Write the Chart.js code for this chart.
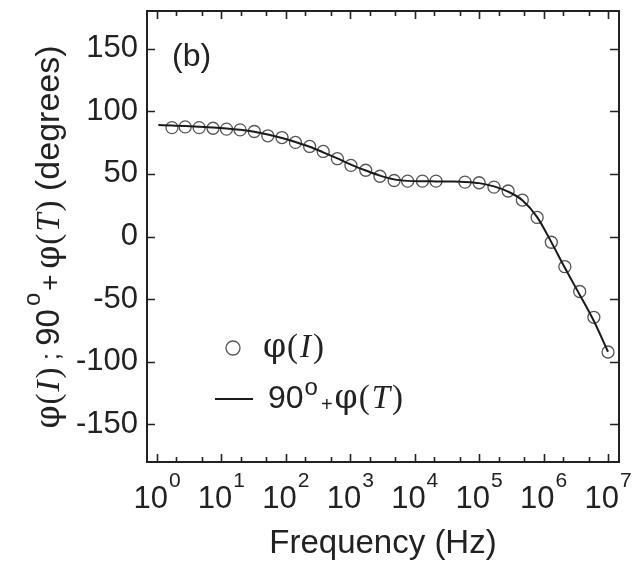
<!DOCTYPE html>
<html>
<head>
<meta charset="utf-8">
<script src="https://cdn.jsdelivr.net/npm/chart.js@4.4.1/dist/chart.umd.min.js"></script>
<style>
  html, body { margin: 0; padding: 0; background: #fff; }
  #wrap { width: 644px; height: 565px; }
</style>
</head>
<body>
<div id="wrap"><canvas id="chPhase" width="644" height="565"></canvas></div>
<script>
/* Fase: φ(I) misurata (cerchi) e 90° + φ(T) (linea continua) vs frequenza. */

// cerchi φ(I)
const freqI = [1.71, 2.74, 4.51, 7.41, 12.0, 19.5, 32.4, 52.5, 87.1, 141,
               234, 380, 631, 1023, 1738, 2884, 4786, 7762, 13180, 21380,
               60260, 100000, 169800, 281800, 467700, 794300, 1318000, 2138000, 3631000, 6026000,
               10000000];
const phiI  = [86.9, 87.5, 86.9, 86.4, 85.7, 85.1, 83.8, 80.4, 79.0, 75.1,
               71.9, 67.9, 62.1, 56.8, 52.9, 48.1, 44.7, 44.2, 44.2, 44.2,
               43.4, 42.9, 39.4, 36.3, 29.1, 15.2, -4.6, -24.1, -43.9, -64.5,
               -92.2];

// linea 90° + φ(T)
const freqT = [1.05, 1.71, 2.74, 4.51, 7.41, 12.0, 19.5, 32.4, 52.5, 87.1,
               141, 234, 380, 631, 1023, 1738, 2884, 4786, 7762, 13180,
               21380, 36000, 60260, 100000, 169800, 281800, 467700, 794300, 1318000, 2138000,
               3631000, 6026000, 10000000];
const phiT  = [89.0, 88.6, 88.2, 87.7, 87.1, 86.3, 85.2, 83.6, 81.4, 78.6,
               75.4, 71.6, 67.2, 62.3, 57.4, 52.7, 48.6, 45.6, 44.4, 44.1,
               44.0, 43.9, 43.6, 42.6, 40.0, 35.8, 29.0, 15.5, -4.5, -25.0,
               -46.5, -67.5, -92.0];

// assi
const yTicks   = [-150, -100, -50, 0, 50, 100, 150];
const xDecades = [1, 10, 100, 1000, 10000, 100000, 1000000, 10000000];
const xExp     = ['0', '1', '2', '3', '4', '5', '6', '7'];
const xMinor   = [2, 5, 20, 50, 200, 500, 2000, 5000, 20000, 50000,
                  200000, 500000, 2000000, 5000000];

const SANS  = '"Liberation Sans", Arial, Helvetica, sans-serif';
const SERIF = '"Liberation Serif", "Times New Roman", serif';
const PHI   = '"DejaVu Serif", serif';
const INK   = '#222';

// disegna segmenti di testo con font diversi, da sinistra a destra
function drawRuns(ctx, runs, x, y) {
  let cx = x;
  runs.forEach(r => {
    ctx.font = r.f;
    ctx.fillText(r.t, cx + (r.dx || 0), y + (r.dy || 0));
    cx += ctx.measureText(r.t).width + (r.dx || 0);
  });
  return cx;
}
function runsWidth(ctx, runs) {
  let w = 0;
  runs.forEach(r => { ctx.font = r.f; w += ctx.measureText(r.t).width + (r.dx || 0); });
  return w;
}
// φ(X) con X corsivo
function phiRuns(letter, size, gap) {
  return [
    { t: 'φ', f: size + 'px ' + PHI },
    { t: '(', f: size + 'px ' + SERIF, dx: 1 },
    { t: letter, f: 'italic ' + size + 'px ' + SERIF, dx: gap },
    { t: ')', f: size + 'px ' + SERIF, dx: gap }
  ];
}

const framePlugin = {
  id: 'frame',
  afterDraw(chart) {
    const ctx = chart.ctx;
    const a = chart.chartArea;
    const xs = chart.scales.x, ys = chart.scales.y;
    ctx.save();
    ctx.strokeStyle = INK;
    ctx.fillStyle = INK;

    // cornice
    ctx.lineWidth = 2;
    ctx.strokeRect(a.left, a.top, a.right - a.left, a.bottom - a.top);

    // tacche interne
    ctx.lineWidth = 1.6;
    ctx.beginPath();
    yTicks.forEach(v => {
      const py = Math.round(ys.getPixelForValue(v)) + 0.5;
      ctx.moveTo(a.left, py);  ctx.lineTo(a.left + 8, py);
      ctx.moveTo(a.right, py); ctx.lineTo(a.right - 9, py);
    });
    xDecades.forEach(v => {
      const px = Math.round(xs.getPixelForValue(v)) + 0.5;
      ctx.moveTo(px, a.bottom); ctx.lineTo(px, a.bottom - 8);
      ctx.moveTo(px, a.top);    ctx.lineTo(px, a.top + 8);
    });
    xMinor.forEach(v => {
      const px = Math.round(xs.getPixelForValue(v)) + 0.5;
      ctx.moveTo(px, a.bottom); ctx.lineTo(px, a.bottom - 5);
      ctx.moveTo(px, a.top);    ctx.lineTo(px, a.top + 5);
    });
    ctx.stroke();

    // etichette asse x: 10^n
    ctx.textBaseline = 'alphabetic';
    ctx.textAlign = 'left';
    xDecades.forEach((v, i) => {
      const runs = [
        { t: '10', f: '31px ' + SANS },
        { t: xExp[i], f: '21px ' + SANS, dx: 1, dy: -21 }
      ];
      const w = runsWidth(ctx, runs);
      drawRuns(ctx, runs, xs.getPixelForValue(v) - w / 2, 508);
    });

    // titolo asse x
    ctx.font = '33px ' + SANS;
    ctx.textAlign = 'center';
    ctx.fillText('Frequency (Hz)', (a.left + a.right) / 2, 553);

    // titolo asse y (ruotato)
    ctx.textAlign = 'left';
    const yRuns = [].concat(
      phiRuns('I', 33, 2),
      [
        { t: ' ; ', f: '26px ' + SANS },
        { t: '90', f: '33px ' + SANS },
        { t: 'o', f: '24px ' + SANS, dx: 3, dy: -19 },
        { t: '+', f: '28px ' + SANS, dx: 2 },
        { t: ' ', f: '20px ' + SANS }
      ],
      phiRuns('T', 33, 2),
      [{ t: ' (degrees)', f: '34px ' + SANS }]
    );
    ctx.save();
    ctx.translate(59, 237);
    ctx.rotate(-Math.PI / 2);
    drawRuns(ctx, yRuns, -runsWidth(ctx, yRuns) / 2, 0);
    ctx.restore();

    // (b)
    ctx.font = '32px ' + SANS;
    ctx.fillText('(b)', 172, 66);

    // legenda
    const dsI = chart.data.datasets[1], dsT = chart.data.datasets[0];
    ctx.beginPath();
    ctx.lineWidth = dsI.pointBorderWidth;
    ctx.strokeStyle = dsI.pointBorderColor;
    ctx.arc(233, 348, 7, 0, Math.PI * 2);
    ctx.stroke();
    drawRuns(ctx, phiRuns('I', 33, 2), 263, 357);

    ctx.beginPath();
    ctx.lineWidth = dsT.borderWidth;
    ctx.strokeStyle = dsT.borderColor;
    ctx.moveTo(215, 399); ctx.lineTo(253, 399);
    ctx.stroke();
    drawRuns(ctx, [
      { t: '90', f: '32px ' + SANS },
      { t: 'o', f: '24px ' + SANS, dx: 1, dy: -13 },
      { t: '+', f: '20px ' + SANS, dx: 3, dy: 3 },
      { t: '', f: '20px ' + SANS, dx: 2 }
    ].concat(phiRuns('T', 33, 2)), 268, 408);

    ctx.restore();
  }
};

new Chart(document.getElementById('chPhase'), {
  type: 'line',
  data: {
    datasets: [
      {
        label: '90° + φ(T)',
        data: freqT.map((f, i) => ({ x: f, y: phiT[i] })),
        borderColor: '#1a1a1a', borderWidth: 2,
        pointRadius: 0, fill: false,
        cubicInterpolationMode: 'monotone'
      },
      {
        label: 'φ(I)',
        data: freqI.map((f, i) => ({ x: f, y: phiI[i] })),
        showLine: false,
        pointRadius: 6, pointStyle: 'circle',
        pointBackgroundColor: 'rgba(255,255,255,0)',
        pointBorderColor: '#555', pointBorderWidth: 1.3
      }
    ]
  },
  options: {
    responsive: false, animation: false, devicePixelRatio: 1,
    layout: { padding: { top: 11, right: 25, left: 0, bottom: 0 } },
    plugins: { legend: { display: false }, tooltip: { enabled: false } },
    scales: {
      x: {
        type: 'logarithmic', min: 0.72, max: 1.48e7,
        ticks: { display: false }, grid: { display: false }, border: { display: false },
        afterFit: s => { s.height = 103; s.paddingLeft = 0; s.paddingRight = 0; }
      },
      y: {
        min: -180, max: 180,
        ticks: { color: INK, padding: 9, font: { family: SANS, size: 31 } },
        grid: { display: false, drawTicks: false }, border: { display: false },
        afterBuildTicks: s => { s.ticks = yTicks.map(v => ({ value: v })); },
        afterFit: s => { s.width = 147; s.paddingTop = 0; s.paddingBottom = 0; }
      }
    }
  },
  plugins: [framePlugin]
});
</script>
</body>
</html>
